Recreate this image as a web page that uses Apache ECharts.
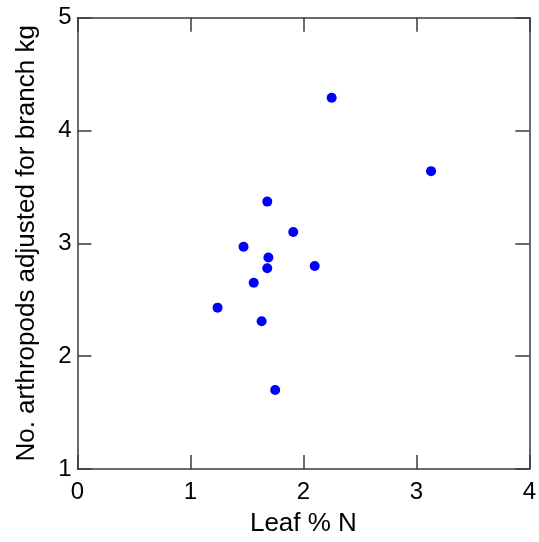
<!DOCTYPE html>
<html>
<head>
<meta charset="utf-8">
<script src="https://cdn.jsdelivr.net/npm/echarts@6/dist/echarts.min.js"></script>
<style>html,body{margin:0;padding:0;background:#fff}#c{width:539px;height:542px}</style>
</head>
<body>
<div id="c"></div>
<script>
var leafN = [1.24, 1.47, 1.56, 1.63, 1.68, 1.68, 1.69, 1.75, 1.91, 2.10, 2.25, 3.13];
var arthropods = [2.43, 2.97, 2.65, 2.31, 2.78, 3.37, 2.875, 1.70, 3.10, 2.80, 4.29, 3.64];
var xTicks = [0, 1, 2, 3, 4];
var yTicks = [1, 2, 3, 4, 5];
var xTitle = 'Leaf % N';
var yTitle = 'No. arthropods adjusted for branch kg';

var points = leafN.map(function (x, i) { return [x, arthropods[i]]; });
var font = 'Liberation Sans, Arial, Helvetica, sans-serif';
var lineStyle = { color: '#3a3a3a', width: 1.5 };
function baseAxis(min, max) {
  return {
    type: 'value', min: min, max: max, interval: 1,
    axisLine: { show: true, onZero: false, lineStyle: lineStyle },
    axisTick: { show: true, inside: true, length: 14, lineStyle: lineStyle },
    splitLine: { show: false }
  };
}
var x0 = baseAxis(xTicks[0], xTicks[xTicks.length - 1]);
x0.position = 'bottom';
x0.axisLabel = { fontSize: 24, color: '#000', fontFamily: font, margin: 11 };
x0.name = xTitle; x0.nameLocation = 'middle'; x0.nameGap = 42;
x0.nameTextStyle = { fontSize: 26, color: '#000', fontFamily: font };
var x1 = baseAxis(xTicks[0], xTicks[xTicks.length - 1]);
x1.position = 'top'; x1.axisLabel = { show: false };
var y0 = baseAxis(yTicks[0], yTicks[yTicks.length - 1]);
y0.position = 'left';
y0.axisLabel = { fontSize: 24, color: '#000', fontFamily: font, margin: 6 };
y0.name = yTitle; y0.nameLocation = 'middle'; y0.nameGap = 38;
y0.nameTextStyle = { fontSize: 26, color: '#000', fontFamily: font };
var y1 = baseAxis(yTicks[0], yTicks[yTicks.length - 1]);
y1.position = 'right'; y1.axisLabel = { show: false };

var chart = echarts.init(document.getElementById('c'), null, { renderer: 'canvas' });
chart.setOption({
  animation: false,
  backgroundColor: '#fff',
  grid: { left: 77.5, right: 9, top: 17.7, bottom: 72, containLabel: false },
  xAxis: [x0, x1],
  yAxis: [y0, y1],
  series: [{
    type: 'scatter', xAxisIndex: 0, yAxisIndex: 0,
    data: points, symbol: 'circle', symbolSize: 10,
    itemStyle: { color: '#0000ff', opacity: 1 }
  }]
});
</script>
</body>
</html>
